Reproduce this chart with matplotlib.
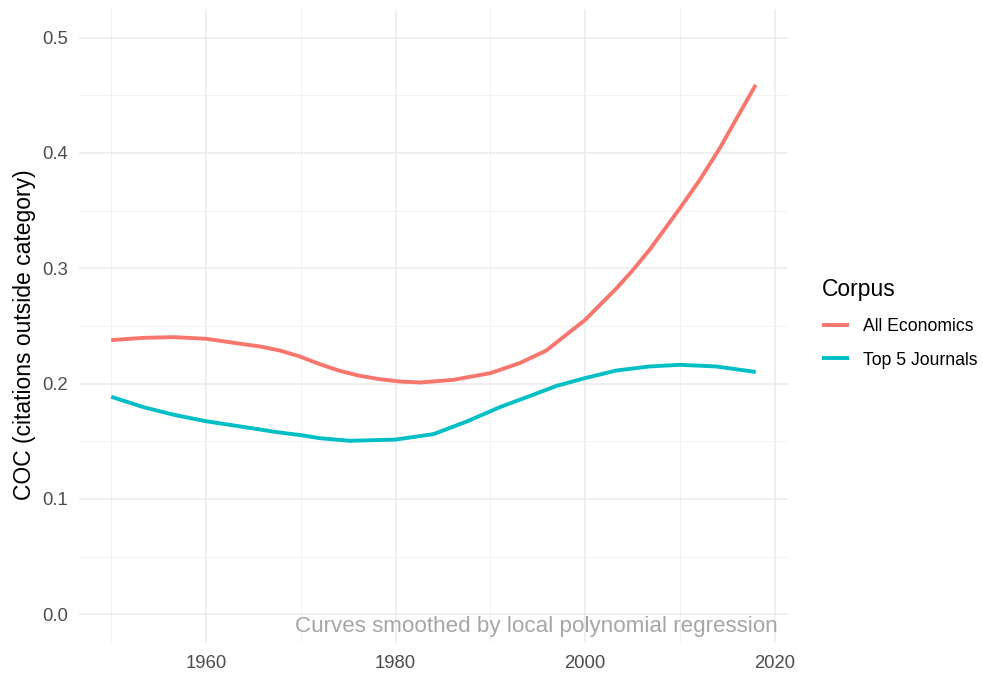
import matplotlib
matplotlib.use("Agg")
import matplotlib.pyplot as plt
from matplotlib.ticker import MultipleLocator

plt.rcParams['font.family'] = ['Liberation Sans', 'DejaVu Sans']

# ---- data ----
series_names = ["All Economics", "Top 5 Journals"]

all_econ_years = [1950, 1953.4, 1956.6, 1960, 1963.6, 1965.7, 1967.8, 1969.9, 1972,
                  1974.1, 1976.2, 1978.3, 1980.5, 1982.6, 1986.1, 1990, 1993.1, 1995.9,
                  2000, 2003.3, 2005, 2006.8, 2010, 2012.1, 2014.2, 2016.3, 2018]
all_econ_coc = [0.2376, 0.2396, 0.2402, 0.2388, 0.2345, 0.2321, 0.2286, 0.2234, 0.2168,
                0.2110, 0.2067, 0.2038, 0.2017, 0.2009, 0.2032, 0.2090, 0.2177, 0.2286,
                0.2552, 0.2825, 0.2980, 0.3160, 0.3520, 0.3766, 0.4040, 0.4345, 0.4590]

top5_years = [1950, 1953.4, 1956.6, 1960, 1963.6, 1967.5, 1970, 1972, 1975.2, 1980,
              1984, 1987.5, 1991, 1994.5, 1997, 2000, 2003.3, 2006.8, 2010,
              2013.8, 2018]
top5_coc = [0.1885, 0.1795, 0.1729, 0.1673, 0.1628, 0.1578, 0.1552, 0.1526, 0.1503, 0.1514,
            0.1561, 0.1670, 0.1795, 0.1902, 0.1980, 0.2047, 0.2113, 0.2148, 0.2162,
            0.2148, 0.2100]

x_ticks = [1960, 1980, 2000, 2020]
y_ticks = [0.0, 0.1, 0.2, 0.3, 0.4, 0.5]

colors = ["#F8766D", "#00BFC4"]

fig = plt.figure(figsize=(9.82, 6.73), dpi=100)
ax = fig.add_axes([79/982, 1-643/673, (788-79)/982, (643-8.7)/673])

ax.plot(all_econ_years, all_econ_coc, color=colors[0], lw=2.8,
        label=series_names[0], solid_capstyle='butt', solid_joinstyle='round')
ax.plot(top5_years, top5_coc, color=colors[1], lw=2.8,
        label=series_names[1], solid_capstyle='butt', solid_joinstyle='round')

ax.set_xlim(1946.6, 2021.4)
ax.set_ylim(-0.025, 0.525)
ax.set_xticks(x_ticks)
ax.set_yticks(y_ticks)
ax.set_yticklabels([f"{v:.1f}" for v in y_ticks])
ax.xaxis.set_minor_locator(MultipleLocator(10))
ax.yaxis.set_minor_locator(MultipleLocator(0.05))

for s in ax.spines.values():
    s.set_visible(False)
ax.grid(which='major', color='#EBEBEB', lw=1.1)
ax.grid(which='minor', color='#F0F0F0', lw=0.6)
ax.set_axisbelow(True)
ax.tick_params(which='both', length=0)
ax.tick_params(axis='x', labelsize=13.3, labelcolor='#4D4D4D', pad=9)
ax.tick_params(axis='y', labelsize=13.3, labelcolor='#4D4D4D', pad=8)

ax.set_ylabel("COC (citations outside category)", fontsize=16.5, color='black')
ax.yaxis.set_label_coords(-0.0606, 0.486)

ax.text(2020.3, -0.011, "Curves smoothed by local polynomial regression",
        ha='right', va='center', fontsize=16.1, color='#A6A6A6')

leg = ax.legend(loc='upper left', bbox_to_anchor=(822/982, 1-278/673),
                bbox_transform=fig.transFigure, frameon=False,
                title="Corpus", fontsize=12.7, title_fontsize=16.5,
                handlelength=1.55, handletextpad=0.75, labelspacing=0.95,
                borderpad=0, borderaxespad=0)
leg._legend_box.align = "left"

fig.savefig("out.png", dpi=100)
